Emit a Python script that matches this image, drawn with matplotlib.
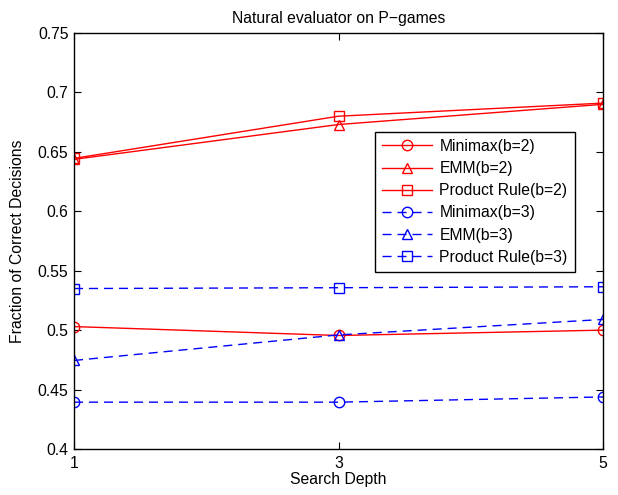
import numpy as np
import matplotlib
matplotlib.use('Agg')
import matplotlib.pyplot as plt

plt.rcParams['font.family'] = ['Liberation Sans', 'DejaVu Sans']

depth = [1, 3, 5]
minimax_b2 = [0.503, 0.4955, 0.500]
emm_b2 = [0.6437, 0.673, 0.690]
product_b2 = [0.6445, 0.680, 0.691]
minimax_b3 = [0.4394, 0.4394, 0.4438]
emm_b3 = [0.4745, 0.496, 0.509]
product_b3 = [0.535, 0.5357, 0.5365]

yticks = [0.4, 0.45, 0.5, 0.55, 0.6, 0.65, 0.7, 0.75]
ytick_lbls = ['0.4', '0.45', '0.5', '0.55', '0.6', '0.65', '0.7', '0.75']

fs = 11.3
fig = plt.figure(figsize=(6.18, 4.95), dpi=100)
# axes box: x 74..603 px, y 33..449 px
ax = fig.add_axes([74 / 618, (495 - 449) / 495, 529 / 618, 416 / 495])

ms = 7.5
dash = (6.5, 4.3)
ax.plot(depth, minimax_b2, 'r-o', mfc='none', ms=ms, lw=1, label='Minimax(b=2)')
ax.plot(depth, emm_b2, 'r-^', mfc='none', ms=ms, lw=1, label='EMM(b=2)')
ax.plot(depth, product_b2, 'r-s', mfc='none', ms=ms, lw=1, label='Product Rule(b=2)')
ax.plot(depth, minimax_b3, 'b--o', mfc='none', ms=ms, lw=1, dashes=dash, label='Minimax(b=3)')
ax.plot(depth, emm_b3, 'b--^', mfc='none', ms=ms, lw=1, dashes=dash, label='EMM(b=3)')
ax.plot(depth, product_b3, 'b--s', mfc='none', ms=ms, lw=1, dashes=dash, label='Product Rule(b=3)')

ax.set_xlim(1, 5)
ax.set_ylim(0.4, 0.75)
ax.set_xticks(depth)
ax.set_yticks(yticks)
ax.set_yticklabels(ytick_lbls)
ax.tick_params(direction='in', top=True, right=True, labelsize=fs, length=5, pad=4)
ax.tick_params(axis='x', pad=5)
for s in ax.spines.values():
    s.set_linewidth(1)

ax.set_xlabel('Search Depth', fontsize=fs, labelpad=1)
ax.set_ylabel('Fraction of Correct Decisions', fontsize=fs, labelpad=9)
ax.set_title('Natural evaluator on P\u2212games', fontsize=fs, pad=7.5)

leg = ax.legend(loc='upper left', bbox_to_anchor=(0.569, 0.7626), fontsize=fs,
                fancybox=False, framealpha=1, edgecolor='black', handlelength=3.2,
                borderpad=0.45, labelspacing=0.46, handletextpad=0.45, borderaxespad=0)
leg.get_frame().set_linewidth(1)

fig.savefig('out.png', dpi=100)
